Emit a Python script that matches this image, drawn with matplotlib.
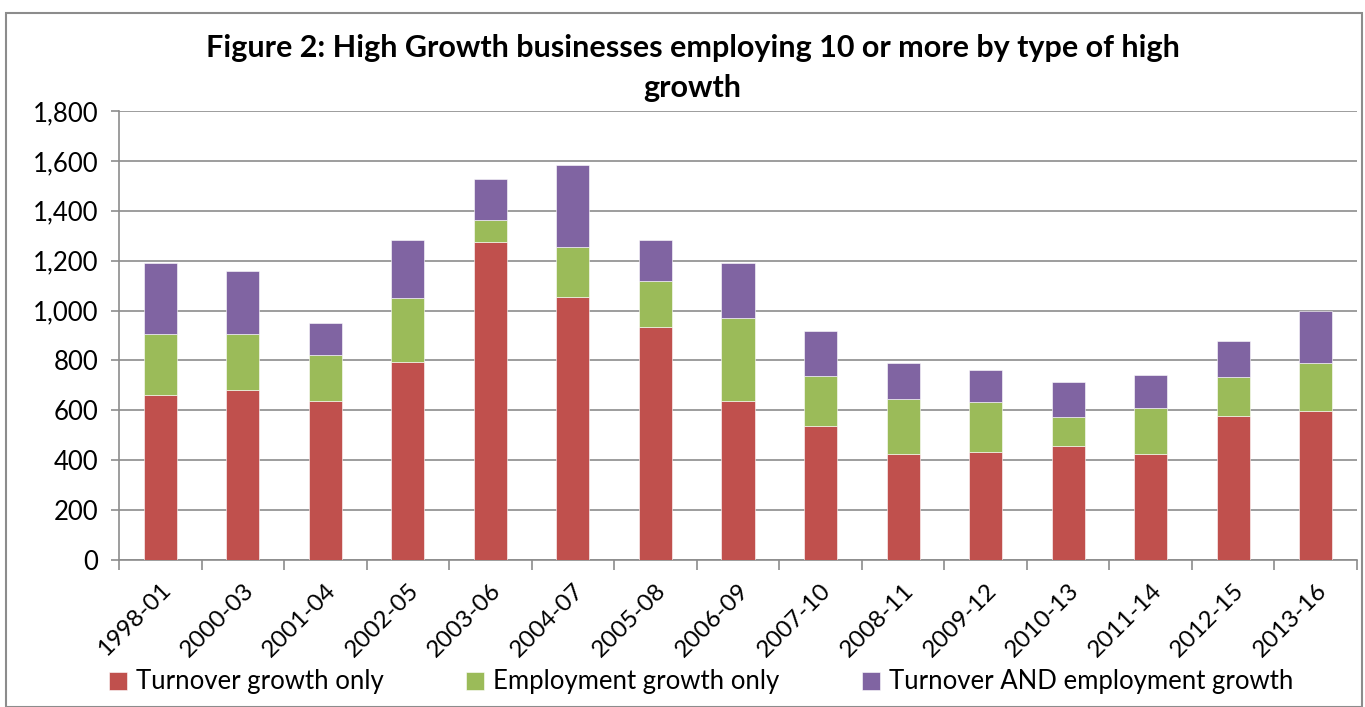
import matplotlib.pyplot as plt
import numpy as np
from matplotlib.patches import Rectangle

plt.rcParams["font.family"] = ["Lato", "DejaVu Sans"]

periods = ["1998-01", "2000-03", "2001-04", "2002-05", "2003-06", "2004-07", "2005-08",
           "2006-09", "2007-10", "2008-11", "2009-12", "2010-13", "2011-14", "2012-15", "2013-16"]
turnover_only = [660, 683, 637, 793, 1274, 1056, 933, 637, 537, 425, 433, 456, 425, 579, 597]
employment_only = [246, 223, 183, 259, 91, 199, 186, 332, 201, 220, 200, 117, 184, 153, 194]
both = [285, 254, 131, 231, 163, 328, 164, 222, 181, 146, 128, 142, 134, 147, 209]

series = [
    ("Turnover growth only", turnover_only, "#C0504D"),
    ("Employment growth only", employment_only, "#9BBB59"),
    ("Turnover AND employment growth", both, "#8064A2"),
]

W, H = 1365, 707
fig = plt.figure(figsize=(W / 100, H / 100), dpi=100)
ax = fig.add_axes([119 / W, 1 - 560 / H, (1357 - 119) / W, (560 - 111) / H])

x = np.arange(len(periods))
bottom = np.zeros(len(periods))
for name, vals, col in series:
    ax.bar(x, vals, width=0.4, bottom=bottom, color=col, label=name,
           edgecolor="white", linewidth=0.4, zorder=3)
    bottom += np.array(vals)

ax.set_xlim(-0.5, len(periods) - 0.5)
ax.set_ylim(0, 1800)
ax.set_yticks(np.arange(0, 1801, 200))
ax.set_yticklabels([f"{v:,}" for v in range(0, 1801, 200)], fontsize=18.5)
ax.yaxis.grid(True, color="#8c8c8c", linewidth=1.2, zorder=0)

ax.set_xticks(x)
ax.set_xticklabels(periods, rotation=45, ha="right", rotation_mode="anchor", fontsize=17.5)
ax.tick_params(axis="x", length=0, pad=14)
ax.set_xticks(np.arange(-0.5, len(periods)), minor=True)
ax.tick_params(axis="x", which="minor", length=7, color="#8c8c8c", width=1.2)
ax.tick_params(axis="y", length=6, color="#8c8c8c", width=1.2, pad=9)

for s in ["top", "right"]:
    ax.spines[s].set_visible(False)
for s in ["left", "bottom"]:
    ax.spines[s].set_color("#8c8c8c")
    ax.spines[s].set_linewidth(1.2)

fig.text(0.5 * (205 + 1180) / W, 1 - 48 / H,
         "Figure 2: High Growth businesses employing 10 or more by type of high",
         ha="center", va="center", fontsize=22, fontweight="bold")
fig.text(0.5 * (205 + 1180) / W, 1 - 88 / H, "growth",
         ha="center", va="center", fontsize=22, fontweight="bold")

leg = fig.legend(loc="center", bbox_to_anchor=(701 / W, 1 - 682 / H), ncol=3,
                 frameon=False, fontsize=18.5, handlelength=0.7, handleheight=0.7,
                 handletextpad=0.35, columnspacing=3.2)

# outer chart border
fig.add_artist(Rectangle((6 / W, 0.0), (1362 - 6) / W, 1 - 13 / H, transform=fig.transFigure,
                         fill=False, edgecolor="#8c8c8c", linewidth=1.5))

fig.savefig("out.png", dpi=100)
